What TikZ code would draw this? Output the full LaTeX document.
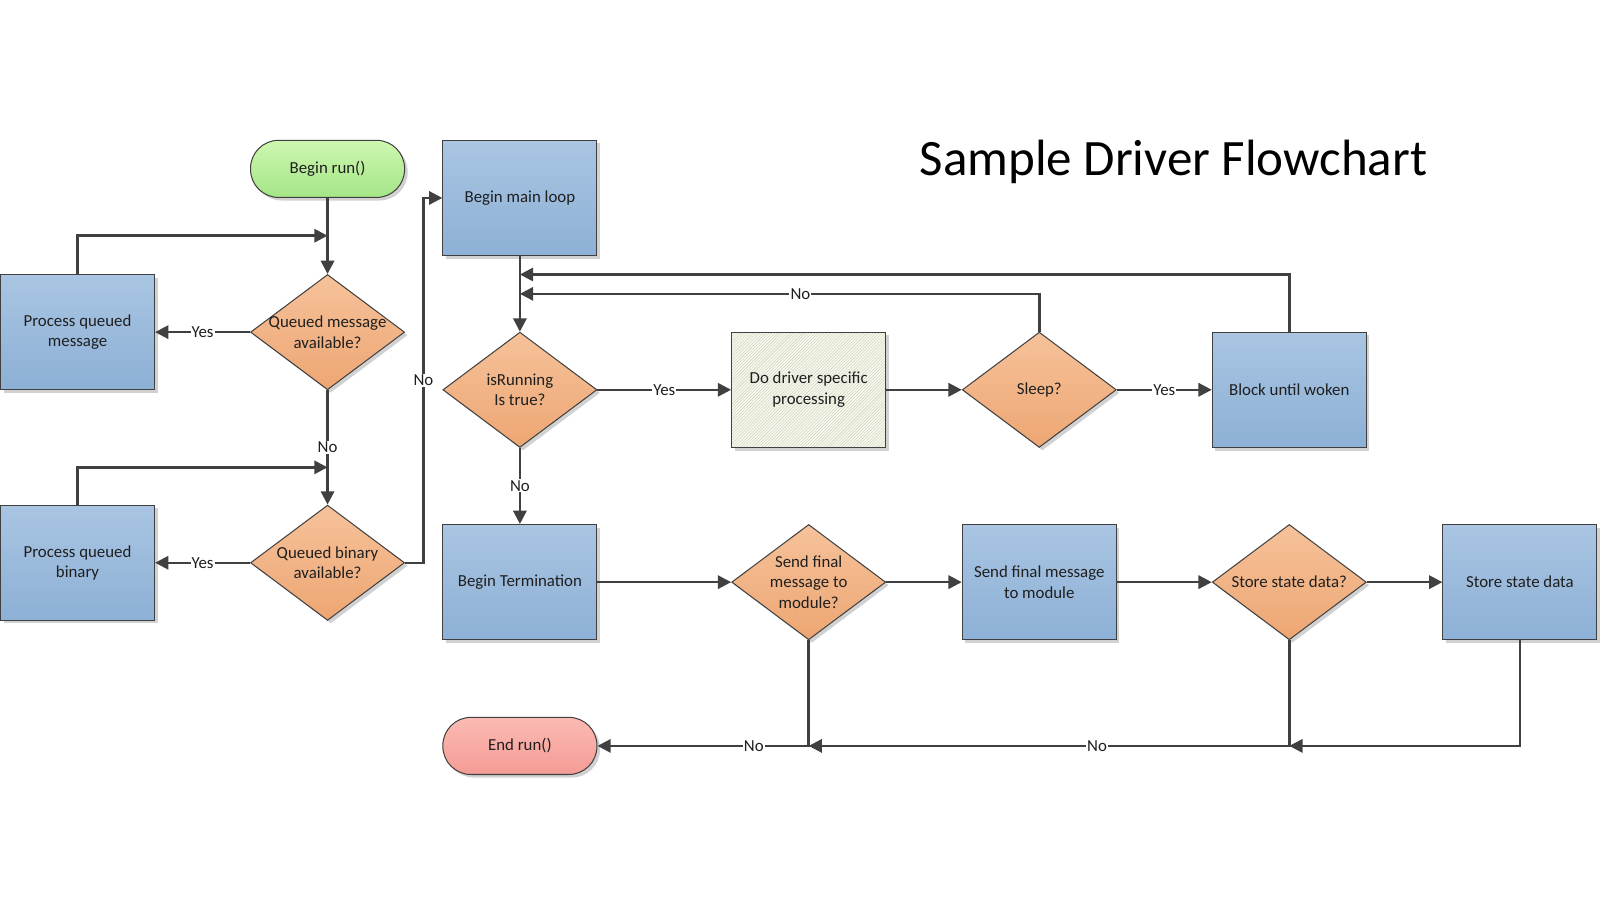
\documentclass[tikz,border=0pt]{standalone}
\usepackage{fontspec}
\setmainfont{Carlito}
\usetikzlibrary{shapes.geometric,arrows.meta,shadows,patterns}
\definecolor{edge}{HTML}{404040}
\definecolor{btop}{HTML}{A9C5E2}
\definecolor{bbot}{HTML}{8DB0D6}
\definecolor{otop}{HTML}{F6C29A}
\definecolor{obot}{HTML}{EDA673}
\definecolor{gtop}{HTML}{CDF7B0}
\definecolor{gbot}{HTML}{A5E587}
\definecolor{rtop}{HTML}{FBBAB3}
\definecolor{rbot}{HTML}{F49C95}
\definecolor{hatchbg}{HTML}{F7F8F0}
\definecolor{hatchfg}{HTML}{C9D2B4}
\begin{document}
\begin{tikzpicture}[x=1pt,y=-1pt,
  every node/.style={font=\fontsize{16.5}{20}\selectfont, text=black!88},
  shad/.style={drop shadow={shadow xshift=3pt,shadow yshift=-3pt,opacity=0.18,fill=black}},
  proc/.style={rectangle, draw=edge, line width=1pt, minimum width=151pt, minimum height=113pt,
    inner sep=0pt, align=center, top color=btop, bottom color=bbot, shad},
  dec/.style={diamond, draw=edge, line width=1pt, minimum width=151pt, minimum height=113pt,
    inner sep=0pt, top color=otop, bottom color=obot, shad},
  term/.style={rectangle, rounded corners=27.5pt, draw=edge, line width=1pt, minimum width=151pt,
    minimum height=56pt, inner sep=0pt, align=center, shad},
  dlab/.style={align=center, inner sep=0pt},
  conn/.style={draw=edge, line width=2.4pt, -{Triangle[length=13pt,width=13pt]}},
  lab/.style={fill=white, inner sep=1pt}
]
\useasboundingbox (0,0) rectangle (1568,882);

\node[font=\fontsize{50}{58}\selectfont, text=black] (title) at (1150,159) {Sample Driver Flowchart};

% left column
\node[term, top color=gtop, bottom color=gbot] (begin) at (321,165.5) {Begin run()};
\node[proc] (pqm) at (76,325.5) {Process queued\\message};
\node[dec, label={[dlab]center:{Queued message\\available?}}] (qma) at (321,325.5) {};
\node[proc] (pqb) at (76,551.5) {Process queued\\binary};
\node[dec, label={[dlab]center:{Queued binary\\available?}}] (qba) at (321,551.5) {};

% main loop
\node[proc] (mainloop) at (509.5,194) {Begin main loop};
\node[dec, label={[dlab]center:{isRunning\\Is true?}}] (isr) at (509.5,382) {};
\node[rectangle, draw=edge, line width=1pt, minimum width=151pt, minimum height=113pt, inner sep=0pt,
  align=center, shad, preaction={fill=hatchbg}, pattern=north east lines, pattern color=hatchfg]
  (ddp) at (792.5,382) {Do driver specific\\processing};
\node[dec, label={[dlab]center:{Sleep?}}] (sleep) at (1018.5,382) {};
\node[proc] (block) at (1263.5,382) {Block until woken};

% termination
\node[proc] (bt) at (509.5,570.5) {Begin Termination};
\node[dec, label={[dlab]center:{Send final\\message to\\module?}}] (sfq) at (792.5,570.5) {};
\node[proc] (sfm) at (1018.5,570.5) {Send final message\\to module};
\node[dec, label={[dlab]center:{Store state data?}}] (ssq) at (1263.5,570.5) {};
\node[proc] (ssd) at (1489.5,570.5) {Store state data};
\node[term, top color=rtop, bottom color=rbot] (endrun) at (509.5,731) {End run()};

% junction points
\coordinate (j1) at (321,231);
\coordinate (j2) at (321,458);
\coordinate (j3) at (509.5,269);
\coordinate (j4) at (509.5,288);
\coordinate (j5) at (1263.5,731);
\coordinate (j6) at (792.5,731);
\coordinate (j7) at (415,551.5);

% connectors
\draw[conn] (begin.south) -- (qma.north);
\draw[conn] (pqm.north) |- (j1);
\draw[conn] (qma.west) -- node[lab]{Yes} (pqm.east);
\draw[conn] (qma.south) -- node[lab]{No} (qba.north);
\draw[conn] (pqb.north) |- (j2);
\draw[conn] (qba.west) -- node[lab]{Yes} (pqb.east);
\draw[conn] (qba.east) -- (j7) |- node[lab, pos=0.25]{No} (mainloop.west);

\draw[conn] (mainloop.south) -- (isr.north);
\draw[conn] (block.north) |- (j3);
\draw[conn] (sleep.north) |- node[lab, pos=0.73]{No} (j4);
\draw[conn] (isr.east) -- node[lab]{Yes} (ddp.west);
\draw[conn] (ddp.east) -- (sleep.west);
\draw[conn] (sleep.east) -- node[lab]{Yes} (block.west);
\draw[conn] (isr.south) -- node[lab]{No} (bt.north);

\draw[conn] (bt.east) -- (sfq.west);
\draw[conn] (sfq.east) -- (sfm.west);
\draw[conn] (sfm.east) -- (ssq.west);
\draw[conn] (ssq.east) -- (ssd.west);
\draw[conn] (ssd.south) |- (j5);
\draw[conn] (ssq.south) |- node[lab, pos=0.7]{No} (j6);
\draw[conn] (sfq.south) |- node[lab, pos=0.63]{No} (endrun.east);
\end{tikzpicture}
\end{document}
